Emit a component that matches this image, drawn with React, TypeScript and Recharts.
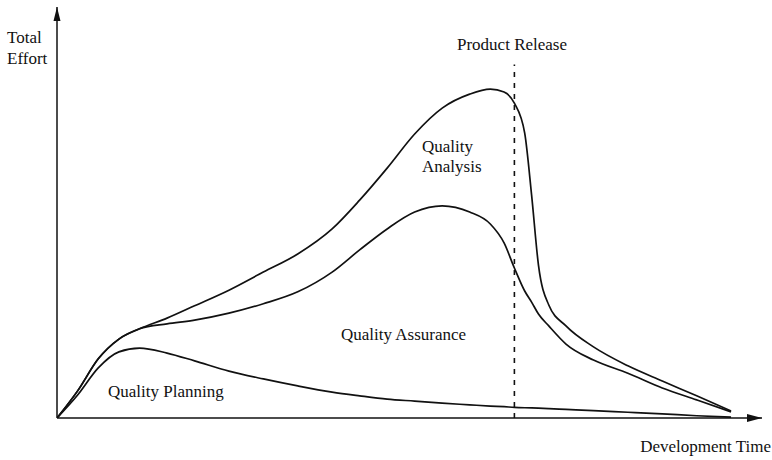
import { ComposedChart, Line, XAxis, YAxis, ReferenceLine } from "recharts";

// development time (arbitrary units) and total effort for each activity
const time = [0, 3, 6, 9, 12, 16, 20, 25, 30, 35, 40, 44, 48, 52, 56, 60, 63, 65, 66.5, 68, 69, 70, 71.5, 74, 78, 83, 88, 93, 98];
const analysis = [0, 6.6, 14.4, 19.2, 21.7, 24.3, 27.3, 31.1, 35.5, 39.9, 46.0, 53.0, 60.8, 69.1, 75.4, 78.8, 80.0, 79.3, 76.6, 69.3, 54.3, 37.2, 27.5, 22.4, 17.3, 12.7, 9.0, 5.4, 1.7];
const assurance = [0, 6.6, 14.4, 19.2, 21.7, 22.9, 23.8, 25.5, 27.8, 30.7, 35.5, 40.9, 46.0, 50.1, 51.6, 50.1, 47.2, 42.6, 36.5, 30.9, 28.2, 25.3, 22.4, 18.0, 14.1, 10.9, 7.3, 4.4, 1.5];
const planning = [0, 5.6, 12.2, 16.1, 17.0, 15.8, 13.9, 11.4, 9.5, 7.8, 6.3, 5.4, 4.6, 4.1, 3.6, 3.2, 2.9, 2.75, 2.6, 2.5, 2.45, 2.4, 2.3, 2.1, 1.8, 1.4, 1.0, 0.55, 0.2];
const releaseTime = 66.5;
const releaseTop = 86;

const data = time.map((t, i) => ({
  t,
  analysis: analysis[i],
  assurance: assurance[i],
  planning: planning[i],
}));

const ink = "#111";
const font = "'Liberation Serif', 'Times New Roman', serif";

const YArrow = (p: any) => (
  <g>
    <line x1={p.x1} y1={p.y1} x2={p.x2} y2={p.y2} stroke={ink} strokeWidth={1.5} />
    <polygon points={`${p.x2},${p.y2} ${p.x2 - 3.5},${p.y2 + 14} ${p.x2 + 3.5},${p.y2 + 14}`} fill={ink} />
  </g>
);

const XArrow = (p: any) => (
  <g>
    <line x1={p.x1} y1={p.y1} x2={p.x2} y2={p.y2} stroke={ink} strokeWidth={1.5} />
    <polygon points={`${p.x2},${p.y2} ${p.x2 - 15},${p.y2 - 4} ${p.x2 - 15},${p.y2 + 4}`} fill={ink} />
  </g>
);

export default function App() {
  return (
    <div style={{ position: "absolute", left: 0, top: 0, width: 772, height: 460, background: "#fff" }}>
      <ComposedChart width={772} height={460} data={data} margin={{ top: 7, right: 10, bottom: 42, left: 57 }}>
        <XAxis type="number" dataKey="t" domain={[0, 102.5]} allowDataOverflow hide />
        <YAxis type="number" domain={[0, 100]} allowDataOverflow hide />
        <ReferenceLine
          segment={[{ x: releaseTime, y: 0 }, { x: releaseTime, y: releaseTop }]}
          stroke={ink}
          strokeWidth={1.6}
          strokeDasharray="5 6"
          ifOverflow="visible"
        />
        <Line type="monotone" dataKey="planning" stroke={ink} strokeWidth={1.7} dot={false} isAnimationActive={false} />
        <Line type="monotone" dataKey="assurance" stroke={ink} strokeWidth={1.7} dot={false} isAnimationActive={false} />
        <Line type="monotone" dataKey="analysis" stroke={ink} strokeWidth={1.7} dot={false} isAnimationActive={false} />
        <ReferenceLine segment={[{ x: 0, y: 0 }, { x: 0, y: 100 }]} ifOverflow="visible" shape={YArrow} />
        <ReferenceLine segment={[{ x: 0, y: 0 }, { x: 102.5, y: 0 }]} ifOverflow="visible" shape={XArrow} />
      </ComposedChart>
      <svg width={772} height={460} style={{ position: "absolute", left: 0, top: 0, pointerEvents: "none" }}>
        <g fontFamily={font} fontSize={17} fill={ink}>
          <text x={7} y={43}>Total</text>
          <text x={7} y={64}>Effort</text>
          <text x={457} y={50}>Product Release</text>
          <text x={422} y={152}>Quality</text>
          <text x={422} y={172}>Analysis</text>
          <text x={341} y={340}>Quality Assurance</text>
          <text x={108} y={397}>Quality Planning</text>
          <text x={771} y={452} textAnchor="end">Development Time</text>
        </g>
      </svg>
    </div>
  );
}
